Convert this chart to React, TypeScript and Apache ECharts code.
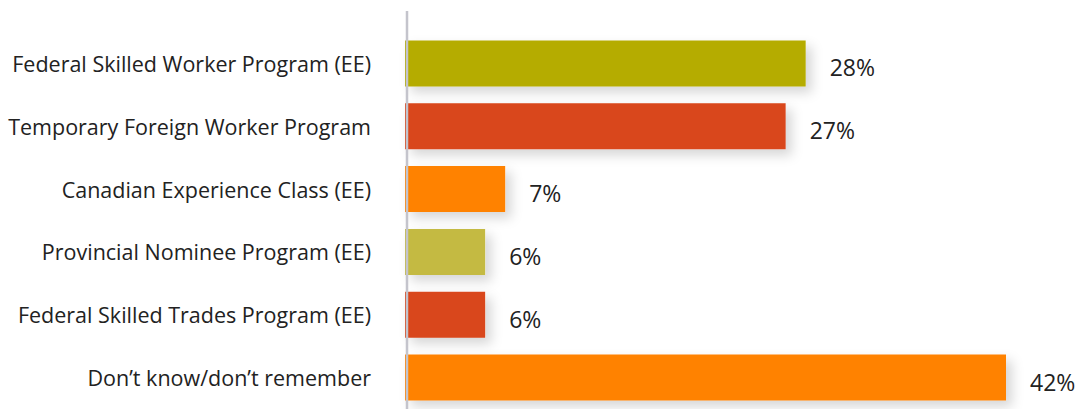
import React, { useEffect, useRef } from "react";
import * as echarts from "echarts";

const categories = [
  "Federal Skilled Worker Program (EE)",
  "Temporary Foreign Worker Program",
  "Canadian Experience Class (EE)",
  "Provincial Nominee Program (EE)",
  "Federal Skilled Trades Program (EE)",
  "Don\u2019t know/don\u2019t remember",
];
const values = [28, 26.6, 7, 5.6, 5.6, 42];
const colors = ["#B5AC00", "#D9461D", "#FF8200", "#C4BA42", "#D9461D", "#FF8200"];

export default function App() {
  const ref = useRef<HTMLDivElement>(null);
  useEffect(() => {
    if (!ref.current) return;
    const chart = echarts.init(ref.current, undefined, { renderer: "svg" });
    const font = "'Open Sans', 'Noto Sans', sans-serif";
    chart.setOption({
      animation: false,
      grid: { left: 405, right: 82, top: 32, bottom: -3, containLabel: false },
      xAxis: { type: "value", min: 0, max: 42, show: false },
      yAxis: {
        type: "category",
        data: categories,
        inverse: true,
        axisLine: { show: false },
        axisTick: { show: false },
        axisLabel: { margin: 34, fontSize: 21.5, color: "#222", fontFamily: font, padding: [0, 0, 4, 0] },
      },
      series: [
        {
          type: "bar",
          barWidth: 46,
          data: values.map((v, i) => ({ value: v, itemStyle: { color: colors[i] } })),
          itemStyle: {
            shadowColor: "rgba(0,0,0,0.16)",
            shadowBlur: 12,
            shadowOffsetX: 6,
            shadowOffsetY: 6,
          },
          label: {
            show: true,
            position: "right",
            distance: 24,
            offset: [0, 4],
            fontSize: 23,
            color: "#222",
            fontFamily: font,
            formatter: (p: any) => Math.round(p.value) + "%",
          },
        },
      ],
    });
    const x0 = chart.convertToPixel({ xAxisIndex: 0 }, 0) as number;
    chart.setOption({
      graphic: [
        {
          type: "line",
          z: 100,
          shape: { x1: x0 + 2, y1: 11, x2: x0 + 2, y2: 409 },
          style: { stroke: "#C4C4CC", lineWidth: 2.5 },
        },
      ],
    });
    return () => chart.dispose();
  }, []);
  return (
    <div
      ref={ref}
      style={{ position: "fixed", left: 0, top: 0, width: 1088, height: 409, background: "#fff" }}
    />
  );
}
